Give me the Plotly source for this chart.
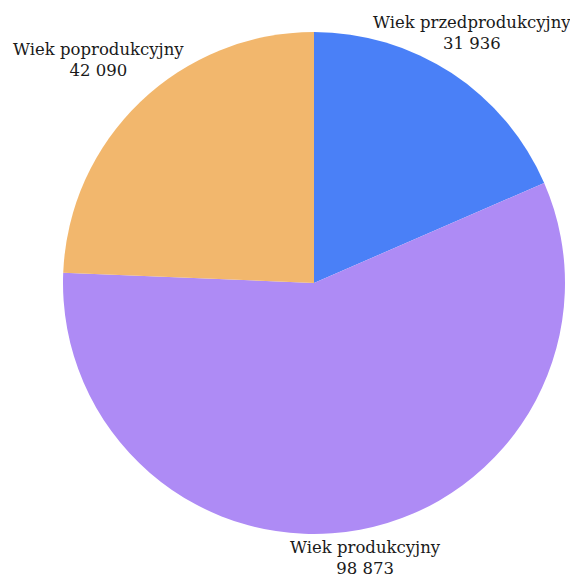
import math
import plotly.graph_objects as go

labels = ["Wiek przedprodukcyjny", "Wiek produkcyjny", "Wiek poprodukcyjny"]
values = [31936, 98873, 42090]
value_text = ["31 936", "98 873", "42 090"]
colors = ["#4A80F7", "#AE8BF5", "#F2B76D"]

# label box offsets (pixels) from the slice's mid-arc point
label_shift_x = [20, 5, -42]
label_shift_y = [40, -28, 42]

fig = go.Figure(go.Pie(
    labels=labels,
    values=values,
    text=value_text,
    textinfo="none",
    sort=False,
    direction="clockwise",
    rotation=0,
    marker=dict(colors=colors, line=dict(width=0)),
    showlegend=False,
    hoverinfo="label+value",
    domain=dict(x=[0, 1], y=[0, 1]),
))

total = sum(values)
cum = 0
for lab, val, txt, sx, sy in zip(labels, values, value_text, label_shift_x, label_shift_y):
    mid = (cum + val / 2) / total * 2 * math.pi
    cum += val
    fig.add_annotation(
        x=0.5 + 0.5 * math.sin(mid),
        y=0.5 + 0.5 * math.cos(mid),
        xref="paper", yref="paper",
        text=f"{lab}<br>{txt}",
        showarrow=False,
        xanchor="center", yanchor="middle",
        xshift=sx, yshift=sy,
        align="center",
        font=dict(family="DejaVu Serif", size=16.5, color="#1a1a1a"),
    )

fig.update_layout(
    width=578, height=581,
    margin=dict(l=55, r=21, t=24, b=55),
    paper_bgcolor="white",
    plot_bgcolor="white",
)
fig.write_html("out.html")
